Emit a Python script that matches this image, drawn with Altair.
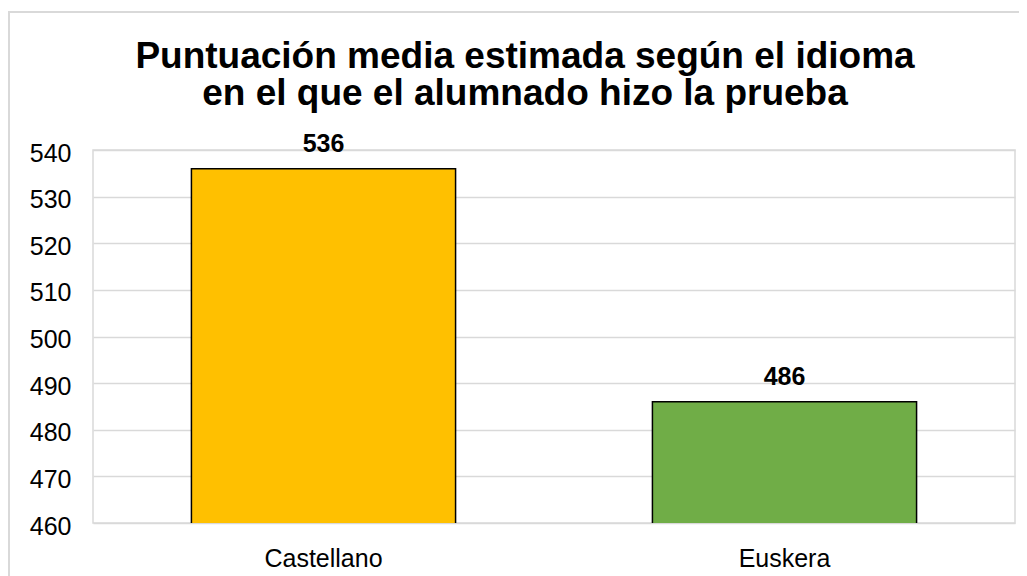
import altair as alt
import pandas as pd

categories = ["Castellano", "Euskera"]
values = [536, 486]
colors = ["#FFC000", "#70AD47"]
y_ticks = [460, 470, 480, 490, 500, 510, 520, 530, 540]
title_lines = ["Puntuación media estimada según el idioma",
               "en el que el alumnado hizo la prueba"]

df = pd.DataFrame({"idioma": categories, "valor": values, "color": colors})
FONT = "Liberation Sans"

x = alt.X("idioma:N", sort=categories, title=None,
          scale=alt.Scale(paddingInner=0.427, paddingOuter=0.2135),
          axis=alt.Axis(labelAngle=0, ticks=False, domain=False, labelPadding=23,
                        labelFontSize=25, labelFont=FONT, labelColor="#000000",
                        labelBaseline="top"))
y = alt.Y("valor:Q", title=None,
          scale=alt.Scale(domain=[460, 540], nice=False, zero=False),
          axis=alt.Axis(values=y_ticks, ticks=False, domain=False, labelPadding=22,
                        labelFontSize=25, labelFont=FONT, labelColor="#000000",
                        labelOffset=3, grid=True, gridColor="#D9D9D9",
                        gridWidth=1.5))

bars = alt.Chart(df).mark_bar(stroke="#000000", strokeWidth=1.5, clip=True).encode(
    x=x, y=y, color=alt.Color("color:N", scale=None)
)
labels = alt.Chart(df).mark_text(
    font=FONT, fontSize=25, fontWeight="bold", color="#000000",
    baseline="alphabetic", dy=-17
).encode(x=alt.X("idioma:N", sort=categories), y="valor:Q", text="valor:Q")

frame_df = pd.DataFrame({"f": [1]})
frame = alt.Chart(frame_df).mark_rect(
    fill="transparent", stroke="#D9D9D9", strokeWidth=2
).encode(x=alt.value(-84), x2=alt.value(1100), y=alt.value(-138), y2=alt.value(600))

title_df = pd.DataFrame({"linea": title_lines, "n": [0, 1]})
title1 = alt.Chart(title_df).transform_filter("datum.n == 0").mark_text(
    font=FONT, fontSize=37, fontWeight="bold", color="#000000",
    align="center", baseline="alphabetic"
).encode(text="linea:N", x=alt.value(432), y=alt.value(-82))
title2 = alt.Chart(title_df).transform_filter("datum.n == 1").mark_text(
    font=FONT, fontSize=37, fontWeight="bold", color="#000000",
    align="center", baseline="alphabetic"
).encode(text="linea:N", x=alt.value(432), y=alt.value(-45))

chart = alt.layer(frame, bars, labels, title1, title2).properties(
    width=922, height=373,
    autosize=alt.AutoSizeParams(type="none"),
    padding={"left": 85, "top": 142, "right": 4, "bottom": 53},
).configure_view(stroke="#D9D9D9", strokeWidth=1.5)

chart.save("out.html", embed_options={"renderer": "svg", "actions": False})
